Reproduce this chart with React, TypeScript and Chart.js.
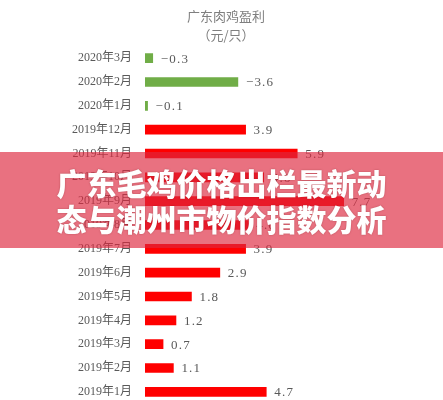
import React, { useEffect, useRef } from "react";
import { Chart, registerables } from "chart.js";

Chart.register(...registerables);

const categories = [
  "2020年3月", "2020年2月", "2020年1月", "2019年12月", "2019年11月",
  "2019年10月", "2019年9月", "2019年8月", "2019年7月", "2019年6月",
  "2019年5月", "2019年4月", "2019年3月", "2019年2月", "2019年1月",
];
const profit = [-0.3, -3.6, -0.1, 3.9, 5.9, 4.6, 7.7, 4.0, 3.9, 2.9, 1.8, 1.2, 0.7, 1.1, 4.7];
const titleLines = ["广东肉鸡盈利", "（元/只）"];
const bannerLines = ["广东毛鸡价格出栏最新动", "态与潮州市物价指数分析"];

const RED = "#FF0000";
const GREEN = "#70AD47";
const GRAY = "#595959";

const valueLabels = {
  id: "valueLabels",
  afterDatasetsDraw(chart: any) {
    const ctx = chart.ctx;
    const meta = chart.getDatasetMeta(0);
    ctx.save();
    ctx.font = '13px "Liberation Serif", "Noto Sans CJK SC", serif';
    ctx.fillStyle = GRAY;
    ctx.textAlign = "left";
    ctx.textBaseline = "middle";
    try { (ctx as any).letterSpacing = "1.2px"; } catch (e) {}
    meta.data.forEach((bar: any, i: number) => {
      const v = profit[i];
      const txt = (v < 0 ? "−" : "") + Math.abs(v).toFixed(1);
      ctx.fillText(txt, bar.x + 8, bar.y + 1);
    });
    ctx.restore();
  },
};

export default function App() {
  const ref = useRef<HTMLCanvasElement>(null);
  useEffect(() => {
    document.body.style.margin = "0";
    const chart = new Chart(ref.current!, {
      type: "bar",
      data: {
        labels: categories,
        datasets: [
          {
            data: profit.map((v) => Math.abs(v)),
            backgroundColor: profit.map((v) => (v < 0 ? GREEN : RED)),
            barThickness: 9,
          },
        ],
      },
      options: {
        indexAxis: "y",
        animation: false,
        responsive: true,
        maintainAspectRatio: false,
        layout: { padding: { left: 9, right: 0, top: 0, bottom: 2.2 } },
        plugins: {
          legend: { display: false },
          tooltip: { enabled: false },
          title: {
            display: true,
            text: titleLines,
            color: "#7f7f7f",
            font: { family: '"Noto Sans CJK SC", sans-serif', size: 13, weight: "normal", lineHeight: 1.45 },
            padding: { top: 7, bottom: 1.5 },
          },
        },
        scales: {
          x: { display: false, min: 0, max: 11.55 },
          y: {
            grid: { display: false },
            border: { display: false },
            ticks: {
              color: GRAY,
              padding: 5,
              font: { family: '"Liberation Serif", "Noto Sans CJK SC", serif', size: 12 },
            },
            afterFit: (scale: any) => {
              scale.width = 136;
            },
          },
        },
      },
      plugins: [valueLabels],
    } as any);
    return () => chart.destroy();
  }, []);

  return (
    <div style={{ position: "fixed", left: 0, top: 0, width: 443, height: 416, background: "#fff" }}>
      <div style={{ position: "absolute", left: 0, top: 0, width: 443, height: 416 }}>
        <canvas ref={ref} />
      </div>
      <div
        style={{
          position: "absolute",
          left: 0,
          top: 152,
          width: 443,
          height: 96,
          background: "rgba(221,39,62,0.66)",
          color: "#fff",
          fontFamily: '"Noto Sans CJK SC", sans-serif',
          fontWeight: 900,
          fontSize: 30,
          lineHeight: "36px",
          textAlign: "center",
          paddingTop: 12,
          boxSizing: "border-box",
          textShadow: "0 0 2px rgba(80,0,0,0.35)",
        }}
      >
        {bannerLines.map((l, i) => (
          <div key={i}>{l}</div>
        ))}
      </div>
    </div>
  );
}
